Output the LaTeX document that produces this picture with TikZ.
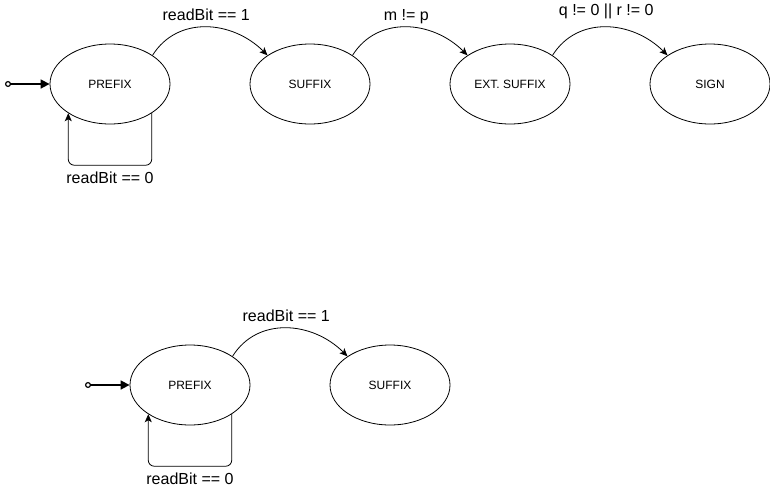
\documentclass[tikz,border=0pt]{standalone}
\usepackage{fontspec}
\setmainfont{Liberation Sans}
\usetikzlibrary{shapes,calc,positioning,arrows.meta}

\begin{document}
\begin{tikzpicture}[x=1pt,y=-1pt,
  state/.style={draw,ellipse,line width=0.8pt,minimum width=120pt,minimum height=80pt,inner sep=0pt,font=\fontsize{12}{14}\selectfont},
  trans/.style={-{Stealth[length=8pt,width=7pt,inset=2pt]},line width=0.8pt},
  init/.style={{Circle[open,length=6pt,width=6pt,line width=1.2pt]}-{Triangle[length=9pt,width=9pt]},line width=1.6pt},
  lbl/.style={font=\fontsize{16}{18}\selectfont,inner sep=0pt}]
\useasboundingbox (0,0) rectangle (770,488);
% upper machine
\node[state] (pre) at (110,84) {PREFIX};
\node[state] (suf) at (310,84) {SUFFIX};
\node[state] (ext) at (510,84) {EXT. SUFFIX};
\node[state] (sgn) at (710,84) {SIGN};
\coordinate (in) at (5,84);
\draw[init] (in) -- (pre.west);
\draw[trans] (pre.34) .. controls +(25,-40) and +(-35,-35) .. (suf.146) node[lbl,pos=0.5,yshift=12pt] {readBit == 1};
\draw[trans] (suf.34) .. controls +(25,-40) and +(-35,-35) .. (ext.146) node[lbl,pos=0.5,yshift=11pt] {m != p};
\draw[trans] (ext.34) .. controls +(25,-40) and +(-35,-35) .. (sgn.146) node[lbl,pos=0.5,yshift=16pt] {q != 0 || r != 0};
\draw[trans,rounded corners=6pt] (pre.-35) -- ++(0,52) -| (pre.-145) node[lbl,pos=0.25,yshift=-13pt] {readBit == 0};
% lower machine
\node[state] (preB) at (190,385) {PREFIX};
\node[state] (sufB) at (390,385) {SUFFIX};
\coordinate (inB) at (85,385);
\draw[init] (inB) -- (preB.west);
\draw[trans] (preB.34) .. controls +(25,-40) and +(-35,-35) .. (sufB.146) node[lbl,pos=0.5,yshift=12pt] {readBit == 1};
\draw[trans,rounded corners=6pt] (preB.-35) -- ++(0,52) -| (preB.-145) node[lbl,pos=0.25,yshift=-13pt] {readBit == 0};
\end{tikzpicture}
\end{document}
